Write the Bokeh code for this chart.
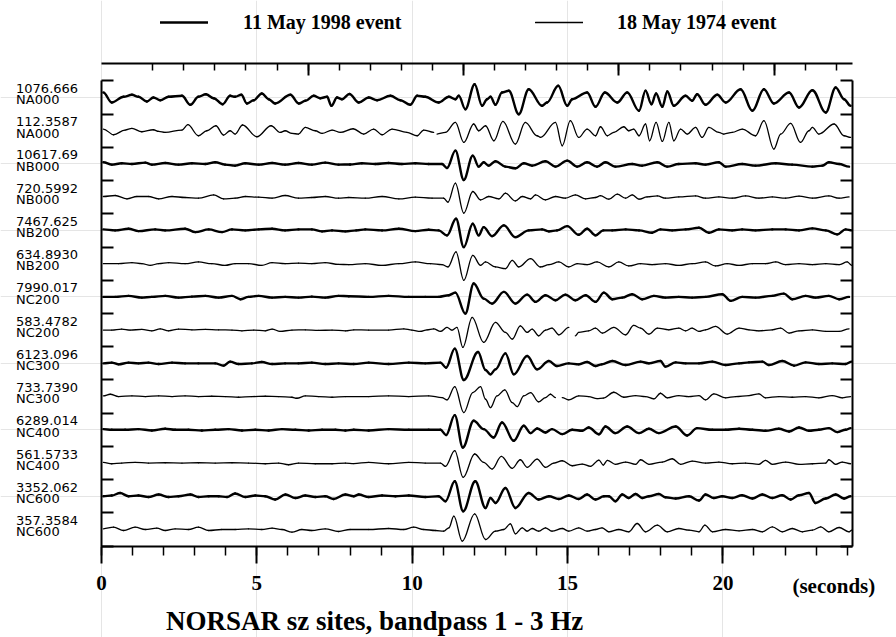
from bokeh.plotting import figure
from bokeh.models import (Range1d, LinearAxis, FixedTicker, Legend, LegendItem,
                          Label, LabelSet, ColumnDataSource, CustomLabelingPolicy)
from bokeh.core.properties import value
from bokeh.embed import file_html
from bokeh.resources import INLINE

nan = float("nan")

# ---------------- data (time in s, relative amplitude; trace spacing = 33.2) ----------------
events = ["11 May 1998 event", "18 May 1974 event"]
stations = ["NA000", "NA000", "NB000", "NB000", "NB200", "NB200", "NC200",
            "NC200", "NC300", "NC300", "NC400", "NC400", "NC600", "NC600"]
scales = ["1076.666", "112.3587", "10617.69", "720.5992", "7467.625", "634.8930",
          "7990.017", "583.4782", "6123.096", "733.7390", "6289.014", "561.5733",
          "3352.062", "357.3584"]
time_ticks = [0, 5, 10, 15, 20]
time_unit = "(seconds)"
title_text = "NORSAR sz sites, bandpass 1 - 3 Hz"

na000_1998 = [(0.06,5),(0.33,-5),(0.71,0.7),(0.98,2.7),(1.19,0.7),(1.46,-4),(1.67,0),(1.89,-2.7),
    (2.16,0.7),(2.59,1.7),(2.86,-7.3),(3.12,0.7),(3.36,3.3),(3.61,-0.7),(3.90,-6.7),(4.14,1.7),
    (4.30,0.7),(4.50,2.7),(4.68,-6),(4.90,-2.7),(5.16,4),(5.38,-1.7),(5.59,-6),(6.08,2.7),
    (6.35,-6),(6.56,-3.3),(6.83,1.7),(7.04,-0.7),(7.26,0.7),(7.40,-8.3),(7.58,0),(7.74,-1.7),
    (7.98,3.5),(8.28,-5),(8.60,0),(8.87,-2.7),(9.30,1.7),(9.62,-2.7),(9.94,-7.3),(10.16,1.7),
    (10.42,0.7),(10.85,-5),(11.18,0.7),(11.39,-1.7),(11.50,1.7),(11.71,-11.7),(12.01,13.3),
    (12.25,-8.3),(12.41,-1.7),(12.52,0.7),(12.68,-7.3),(12.89,5),(13.11,6.7),(13.43,-16.7),
    (13.75,8.3),(14.18,-8.3),(14.34,-5),(14.70,11.7),(14.99,-8.3),(15.15,-1.7),(15.63,5),
    (15.90,-9.3),(16.20,5),(16.60,-5),(16.92,5),(17.30,-13.3),(17.51,6.7),(17.70,-6.7),
    (17.85,4),(18.05,-9.3),(18.21,6),(18.42,-8.3),(18.80,1.7),(19.01,-3.3),(19.17,3.3),
    (19.44,-7.3),(19.82,2.7),(20.09,-5),(20.57,8.3),(20.95,-13.3),(21.32,8.3),(21.64,-6),
    (22.13,5),(22.45,-10),(22.88,7.3),(23.31,-15),(23.63,10),(23.90,-1.7),(24.11,-8.3)]

na000_1974 = [(0.06,1.7),(0.39,-4),(0.76,0.7),(0.98,2.3),(1.30,-1),(1.67,1),(1.84,-0.7),
    (2.05,-1.7),(2.59,0.7),(2.78,6),(3.12,-5),(3.39,0),(3.68,5),(3.93,-4.3),(4.14,0),(4.30,-3.3),
    (4.54,5.7),(5.00,-6),(5.46,5),(5.75,-1.7),(5.91,0),(6.13,-2.7),(6.34,-3.3),(6.56,3.3),
    (6.88,0),(7.10,-2.7),(7.42,0.7),(7.69,-1.7),(8.10,2),(8.44,-3.3),(8.76,1.7),(9.03,-4),
    (9.35,1.7),(9.83,-1.7),(10.16,-5),(10.37,0.7),(10.69,-1.7),(10.75,nan),(10.80,-3.3),
    (11.07,-1.7),(11.39,8.3),(11.66,-11.7),(11.98,6.7),(12.14,0),(12.36,5),(12.63,-10),
    (12.92,9.3),(13.32,-13.3),(13.64,8.3),(14.02,-5),(14.13,-6.7),(14.61,8.3),(14.83,-15),
    (15.09,10),(15.36,-6.7),(15.63,1.7),(15.90,-5),(16.06,4),(16.28,-5),(16.49,-1.7),(16.81,4),
    (16.97,0),(17.13,1.7),(17.30,-5),(17.51,6.7),(17.64,-10),(17.85,8.3),(18.05,-10.7),
    (18.26,8.3),(18.42,-10),(18.64,1.7),(18.85,-3.3),(19.12,3.3),(19.33,-6.7),(19.55,3.3),
    (19.87,-1.7),(20.03,-3.3),(20.30,-1.7),(20.62,1.7),(21.05,-5),(21.32,10),(21.64,-18.3),
    (21.86,-3.3),(22.18,7.3),(22.50,-11.7),(22.77,0),(22.88,3.3),(23.09,-3.3),(23.58,6.7),
    (23.90,-5),(24.11,-6.7)]

nb000_1998 = [(0.06,1.7),(0.33,-0.7),(0.65,0.7),(0.98,0),(1.41,1.3),(1.62,-0.7),(2.05,1),
    (2.48,-0.7),(2.91,0.7),(3.34,0),(3.66,1.7),(3.98,-0.7),(4.30,-1.7),(4.63,0.7),(5.06,-0.7),
    (5.49,1),(5.91,-0.7),(6.34,1),(6.77,-0.7),(7.20,1.3),(7.63,-0.7),(8.00,-0.5),(8.38,0.7),
    (8.81,0),(9.24,1),(9.67,0),(10.10,0.7),(10.53,0),(10.96,0),(11.12,-4),(11.39,13.3),
    (11.66,-16),(11.95,8.3),(12.14,-2.7),(12.30,1.7),(12.46,-1.7),(12.68,2.7),(13.00,-2.7),
    (13.32,-4.3),(13.59,0.7),(13.86,-1.7),(14.29,2.7),(14.61,-2.7),(14.99,3.3),(15.31,-2.7),
    (15.63,1.7),(15.95,-2.7),(16.22,1.7),(16.54,-2.7),(17.08,0),(17.40,-1.7),(17.89,1.7),
    (18.21,-2.7),(18.58,0),(19.12,0.7),(19.44,-0.7),(19.87,1.7),(20.09,-2.7),(20.62,0),
    (21.05,-1.7),(21.70,0.7),(22.23,-0.7),(22.88,-2.7),(23.20,-1.7),(23.41,1.7),(23.74,0),
    (24.06,-2.7)]

nb000_1974 = [(0.06,0.7),(0.44,1.7),(0.82,-1.7),(1.14,0.7),(1.51,0.7),(1.84,-1.7),(2.27,0.7),
    (2.69,-0.3),(3.12,-1),(3.61,2.3),(3.93,-1.7),(4.30,-1),(4.63,0.7),(5.06,0),(5.49,-1),
    (5.91,1.7),(6.34,-1),(6.77,-0.3),(7.20,0.7),(7.63,-1),(7.96,-0.3),(8.49,-1),(9.03,0.7),
    (9.57,-1.7),(10.10,0),(10.64,-1),(11.01,-1),(11.15,-5),(11.39,14),(11.66,-16),(11.95,5.7),
    (12.20,-2.7),(12.46,0.7),(12.79,-1.7),(13.00,4),(13.32,-3.7),(13.54,0.7),(13.81,-1.7),
    (13.97,2.3),(14.29,-2.7),(14.61,0.7),(14.93,-1),(15.25,2.3),(15.58,-1.7),(15.90,-0.3),
    (16.06,1.5),(16.33,-2),(16.60,3),(16.87,-1),(17.08,2.3),(17.30,-2),(17.56,0.3),(17.89,1.3),
    (18.15,-1),(18.58,0.3),(19.12,1.3),(19.44,-1),(19.87,0.3),(20.30,-1),(20.73,1.3),
    (21.16,-1),(21.59,0.3),(22.02,-1),(22.45,1),(22.88,-1),(23.41,1.3),(23.74,-1),(24.06,0.3)]

nb200_1998 = [(0.06,1),(0.44,0),(0.87,1.7),(1.19,-0.7),(1.73,1),(2.05,0),(2.69,1.7),(3.02,-1.7),
    (3.45,1),(3.88,-1.7),(4.20,1),(4.63,0),(5.06,1),(5.49,1.7),(5.91,0),(6.34,1),(6.77,1),
    (7.10,-1),(7.42,0),(7.85,-1),(8.20,0),(8.49,1),(9.03,0),(9.57,1.7),(10.10,-0.7),(10.53,0.7),
    (10.85,0),(11.12,-5),(11.41,11.7),(11.66,-16.7),(11.95,6.7),(12.14,-5),(12.30,3.3),
    (12.57,-5.7),(12.95,5),(13.32,-6.7),(13.75,0),(14.18,1),(14.40,-1),(14.66,0),(14.99,4.3),
    (15.36,-4.3),(15.63,1.7),(15.90,-5),(16.15,0),(16.44,0),(16.87,1),(17.30,0),(17.72,-2.3),
    (17.99,1),(18.37,0),(18.80,1),(19.23,2.7),(19.55,-2.3),(19.87,1),(20.30,0),(20.62,1),
    (21.05,0),(21.59,1),(22.02,1),(22.45,0),(22.88,2),(23.31,0),(23.68,-4),(23.95,1),(24.15,0)]

nb200_1974 = [(0.06,0),(0.55,0),(0.98,1),(1.30,0),(1.57,-1.7),(1.84,0),(2.16,1),(2.69,0),
    (3.12,1.7),(3.55,0),(3.98,-1.7),(4.30,0),(4.73,0),(5.16,-1.7),(5.49,1),(5.91,0),(6.34,0.5),
    (6.77,0),(7.20,1),(7.63,-0.7),(7.96,-1),(8.49,0),(9.03,-1.7),(9.57,0),(10.10,1.7),
    (10.59,0),(10.96,-1),(11.15,-3.3),(11.41,11.7),(11.66,-16.7),(11.95,8.3),(12.20,-1.7),
    (12.36,1.7),(12.68,-3.3),(13.00,-5),(13.22,3.3),(13.43,-3.3),(13.81,5),(14.13,-3.3),
    (14.40,-1),(14.72,1.7),(15.04,-3.3),(15.31,0),(15.63,-1),(15.95,1.7),(16.33,-3.3),
    (16.65,1.7),(16.97,-2.3),(17.35,0),(17.72,-1),(18.15,0),(18.58,-1.7),(19.01,0),(19.44,1.7),
    (19.76,-2.3),(20.14,0),(20.52,-1.7),(20.95,0),(21.37,0),(21.70,1.7),(22.02,-1),(22.45,0),
    (22.88,-1),(23.31,0),(23.74,-1),(24.00,1.7),(24.15,-1.7)]

nc200_1998 = [(0.06,0),(0.44,0),(0.87,1),(1.30,-0.7),(1.62,0),(2.05,1),(2.48,-0.7),(2.91,0.3),
    (3.34,1),(3.77,-0.7),(4.20,1),(4.47,-2.3),(4.73,0),(5.06,1),(5.49,-0.7),(5.91,0),(6.34,-0.7),
    (6.77,0.3),(7.20,-0.7),(7.63,1),(7.96,0.7),(8.60,0),(9.24,1),(9.89,0),(10.42,0),(10.85,0),
    (11.18,1.7),(11.39,4.3),(11.71,-16.7),(11.98,13.3),(12.30,-1.7),(12.57,-6.7),(12.95,5),
    (13.32,-6.7),(13.70,2.3),(13.97,-5),(14.29,1.7),(14.61,-3.3),(14.93,2.3),(15.25,-3.3),
    (15.58,1.7),(15.90,-5),(16.17,4.3),(16.44,-2.3),(16.76,-0.7),(17.08,2.7),(17.40,-2.3),
    (17.78,1),(18.15,-0.7),(18.58,0),(19.01,-0.7),(19.44,0),(19.98,2.7),(20.25,-4),(20.62,0),
    (21.05,-0.7),(21.59,1),(21.96,3.3),(22.23,-2.3),(22.66,1),(22.98,-0.7),(23.41,1),
    (23.74,-2.3),(24.06,0)]

nc200_1974 = [(0.06,0),(0.33,0),(0.65,1),(0.92,0),(1.30,0.7),(1.62,-0.7),(1.89,1.3),(2.16,-0.7),
    (2.48,1),(2.91,0.3),(3.34,0.7),(3.77,0.3),(4.20,0),(4.52,-0.7),(4.90,0),(5.27,-0.7),(5.49,1),
    (5.75,-1.3),(6.13,0),(6.56,0.3),(6.99,-0.3),(7.42,0),(7.85,-0.7),(8.12,0.3),(8.60,0),
    (9.24,0),(9.73,1.3),(9.99,0),(10.26,-1.3),(10.48,0.3),(10.69,1.3),(10.91,-1.3),(11.12,2.7),
    (11.28,0),(11.44,2.7),(11.63,-17.3),(11.93,12.7),(12.30,-12.3),(12.68,7.7),(13.00,-2.3),
    (13.22,-9),(13.48,4.3),(13.70,-2.3),(13.86,1),(14.07,-5.7),(14.29,0),(14.50,2),(14.72,-4.7),
    (15.04,2.7),(15.12,nan),(15.25,-5.7),(15.36,-2.3),(15.68,-0.7),(15.90,2),(16.12,-3),
    (16.49,2.7),(16.87,-4.7),(17.13,4.7),(17.35,2),(17.62,-4),(17.89,2),(18.26,0.3),(18.58,2),
    (18.80,-0.7),(19.01,2),(19.23,-1.3),(19.44,0.3),(19.76,3.7),(20.14,-4),(20.52,2),
    (20.84,0.3),(21.16,-0.7),(21.59,0.3),(21.86,2),(22.13,-3),(22.45,-0.7),(22.88,0.3),
    (23.31,-1.3),(23.74,-1.3),(24.06,1.3)]

nc300_1998 = [(0.06,0),(0.33,0.7),(0.55,-1),(0.87,0.7),(1.19,0),(1.51,0.7),(1.84,-0.7),(2.27,0.7),
    (2.69,0),(3.12,0),(3.66,0),(3.93,-2.3),(4.14,1.7),(4.41,-0.7),(4.84,0),(5.16,1.3),
    (5.49,-0.7),(5.91,0),(6.34,0),(6.77,0.7),(7.20,-0.7),(7.63,0),(8.12,-0.7),(8.60,0.7),
    (9.24,-0.7),(9.89,0.7),(10.42,0),(10.91,0.7),(11.09,-4.3),(11.37,14.7),(11.66,-16.7),
    (12.12,11.3),(12.36,-6.7),(12.52,-11),(12.68,-6),(13.00,10),(13.27,-11),(13.70,7.3),
    (14.02,-6),(14.40,2.3),(14.66,-2.7),(15.04,0),(15.36,-1),(15.63,1.3),(15.90,-2.7),
    (16.10,-1),(16.44,2.3),(16.87,-1.7),(17.35,1.7),(17.62,0),(17.99,2.3),(18.15,-3.3),
    (18.48,1),(18.80,0),(19.23,0),(19.66,1.7),(20.09,-1.7),(20.52,0),(20.84,1),(21.27,1.7),
    (21.48,-1.7),(21.91,2.3),(22.29,-2.3),(22.66,1),(23.09,-0.7),(23.52,0),(23.95,-0.7),
    (24.15,1.7)]

nc300_1974 = [(0.06,0.7),(0.28,2.3),(0.55,0),(0.98,0.7),(1.41,0),(1.84,0.7),(2.27,0),(2.69,0.7),
    (3.12,0),(3.55,0.3),(3.98,0),(4.41,-0.7),(4.84,0),(5.27,0.3),(5.70,0),(6.13,-0.7),
    (6.29,-1.7),(6.56,0.7),(6.99,0),(7.42,-0.7),(7.85,0),(8.60,0),(9.24,0.7),(9.89,0),
    (10.53,0.7),(10.96,-1),(11.12,-3.3),(11.37,10),(11.66,-16),(11.95,4),(12.20,10),
    (12.36,-2.7),(12.52,-11),(12.73,0.7),(12.98,6.7),(13.22,-6),(13.38,-10),(13.59,0.7),
    (13.81,4),(14.07,-5.3),(14.29,-1),(14.45,2.3),(14.61,-1),(14.72,nan),(14.83,-1),
    (15.04,-3.3),(15.36,0.7),(15.68,0),(15.95,-2),(16.15,-1.5),(16.49,4.3),(16.81,-0.7),
    (17.19,1),(17.51,0),(17.78,-2.3),(17.99,3.3),(18.21,-1.3),(18.58,1),(18.90,0),(19.23,1),
    (19.44,-3.3),(19.71,2.7),(20.09,-1.3),(20.41,0),(20.84,1),(21.16,2.7),(21.37,-1.3),
    (21.80,0),(22.23,-0.7),(22.66,0),(23.09,-1.3),(23.52,1),(23.84,-1.3),(24.11,0)]

nc400_1998 = [(0.06,0.7),(0.33,0),(0.76,0),(1.19,0.7),(1.62,-0.7),(2.05,1),(2.37,0),(2.80,0),
    (3.23,-0.7),(3.66,0),(4.09,0.7),(4.52,-0.7),(4.95,0),(5.38,-0.7),(5.81,0.7),(6.24,0),
    (6.67,-0.7),(7.10,0),(7.53,0),(7.85,-0.7),(8.12,0),(8.60,-0.7),(9.24,0.7),(9.89,0),
    (10.53,0),(10.91,0),(11.09,-5.3),(11.37,14.7),(11.63,-17.7),(11.98,9),(12.30,0.7),
    (12.62,-7.7),(12.89,7.3),(13.27,-11),(13.59,4),(13.81,-3.3),(14.02,1.3),(14.29,-2.7),
    (14.50,0.7),(14.83,-4.3),(15.15,0),(15.47,-1),(15.68,2.3),(16.01,-4.5),(16.22,3.3),
    (16.54,-3.3),(16.92,3.3),(17.30,-3.3),(17.62,1),(17.94,-3.3),(18.48,3.3),(18.85,-5.7),
    (19.17,1.7),(19.66,0),(20.09,0),(20.52,1),(20.95,0),(21.37,-1),(21.80,1),(22.13,-1.7),
    (22.45,2.3),(22.77,-1),(23.09,0),(23.41,1.7),(23.68,-2.3),(23.95,0),(24.11,1.7)]

nc400_1974 = [(0.06,0.7),(0.33,-0.7),(0.65,0),(1.08,0.7),(1.51,0),(2.05,0.3),(2.59,0),(3.12,0.3),
    (3.66,0),(4.20,0.3),(4.73,0),(5.27,-0.7),(5.70,0),(6.02,-1.7),(6.34,0),(6.88,-0.7),
    (7.42,-0.7),(7.85,0),(8.12,-0.5),(8.60,0.7),(9.24,-0.7),(9.89,0.7),(10.42,0),(10.91,0),
    (11.07,-3.3),(11.37,12.3),(11.64,-14.3),(12.01,9),(12.30,0.7),(12.57,-6),(12.87,6.7),
    (13.22,-5.3),(13.48,3.3),(13.70,-4.3),(14.02,4),(14.29,-4.3),(14.56,0),(14.83,2.3),
    (15.15,-2.7),(15.47,-1),(15.74,-3.3),(16.01,3),(16.15,-2),(16.28,2.7),(16.54,-1.3),
    (16.87,1),(17.19,-1.3),(17.35,3.3),(17.62,-1.3),(18.05,1),(18.37,4.3),(18.64,-1.3),
    (19.01,2),(19.44,0),(19.87,1),(20.30,-0.7),(20.73,0),(21.16,-1.3),(21.37,2.7),(21.59,-1.3),
    (22.02,1),(22.45,-1.3),(22.88,-0.7),(23.31,0),(23.41,3.3),(23.63,-1.3),(23.84,1),
    (24.11,-0.7)]

nc600_1998 = [(0.06,0),(0.33,0.7),(0.60,3.3),(0.87,0),(1.19,0.7),(1.51,-0.7),(1.84,1.7),
    (2.16,-0.7),(2.48,0),(2.86,1.7),(3.12,-0.7),(3.45,0),(3.77,0),(4.04,-0.7),(4.30,2.7),
    (4.63,-0.7),(4.95,0.7),(5.27,0),(5.59,-3.3),(5.92,1.7),(6.24,-1.7),(6.56,0.7),(6.88,-0.7),
    (7.20,0),(7.47,-2.7),(7.85,1.7),(8.12,0),(8.28,1.7),(8.60,-0.7),(9.03,0.7),(9.46,0),
    (9.89,0.7),(10.42,-0.7),(10.85,0),(11.07,-5),(11.37,15),(11.64,-15),(12.03,15),
    (12.36,-11.7),(12.52,-1.7),(12.68,-6.7),(13.00,8.3),(13.32,-11.7),(13.75,3.3),(14.07,-3.3),
    (14.40,0),(14.72,-2.7),(15.04,0.7),(15.36,-2.7),(15.63,1.7),(15.90,-3.3),(16.17,0),
    (16.33,0),(16.54,-5),(16.76,1.7),(16.97,-1.7),(17.19,2.3),(17.40,-1.7),(17.62,0),
    (17.94,2.3),(18.15,-1),(18.48,-2.3),(18.91,0),(19.23,-4.3),(19.44,1.7),(19.71,-1.7),
    (19.98,0),(20.30,-1.7),(20.62,1),(20.95,-2.3),(21.27,1.7),(21.59,-1.7),(21.91,1),
    (22.18,-3.3),(22.45,1),(22.77,3.3),(22.98,-6.7),(23.31,-2.3),(23.63,1.7),(23.90,-2.3),
    (24.11,0)]

nc600_1974 = [(0.06,0.7),(0.39,2.3),(0.71,-1),(1.08,2.3),(1.41,0),(1.78,1.3),(2.05,-1),
    (2.37,0.7),(2.80,0),(3.12,2.3),(3.45,-1),(3.87,0),(4.30,0),(4.73,0.7),(5.16,0),(5.49,1.3),
    (5.81,0),(6.13,-2.7),(6.45,0),(6.77,-1),(7.20,0.7),(7.63,-2),(8.00,0),(8.60,0),(9.24,1),
    (9.73,0),(10.05,2.3),(10.37,0),(10.75,-1),(11.01,-1.7),(11.18,1.7),(11.34,13.3),
    (11.61,-11.7),(12.01,15.7),(12.36,-10),(12.68,-1.7),(12.95,0),(13.16,5.7),(13.32,-4.3),
    (13.54,1.7),(13.70,-1.7),(13.86,1),(14.07,-1.7),(14.29,1.7),(14.50,-1.7),(14.83,1),
    (15.04,-1.7),(15.36,1.7),(15.63,-1.7),(15.90,0),(16.11,1.7),(16.33,-2.3),(16.65,0),
    (16.97,-2.3),(17.24,6),(17.51,-2.3),(17.89,4.3),(18.21,-2.3),(18.58,1),(18.91,-0.7),
    (19.23,-2.3),(19.42,4.3),(19.66,-2.3),(20.09,0),(20.52,-1.3),(20.95,0),(21.27,-2.3),
    (21.59,2.7),(21.91,-2.3),(22.23,1),(22.56,-2.3),(22.88,-0.7),(23.15,2.7),(23.41,-2.3),
    (23.74,2),(24.06,-2.3),(24.15,-0.7)]

traces = [na000_1998, na000_1974, nb000_1998, nb000_1974, nb200_1998, nb200_1974,
          nc200_1998, nc200_1974, nc300_1998, nc300_1974, nc400_1998, nc400_1974,
          nc600_1998, nc600_1974]

# ---------------- layout constants ----------------
W, H = 896, 637
PX_PER_S = 31.07         # horizontal scale
PX_PER_TRACE = 33.23     # vertical trace spacing
X0_PX, Y0_PX = 101, 97   # screen position of t=0 and of the first trace
GAIN = 1.0 / 33.2        # amplitude units per trace spacing
SMOOTH = 0.36            # bezier handle length (fraction of segment) -> rounded wiggles
X_END = 24.17
Y_TOP = 1.02
Y_BOT = -13.5
TOP_SHIFT = 1.65

x_start = -X0_PX / PX_PER_S
x_stop = (W - X0_PX) / PX_PER_S
y_stop = Y0_PX / PX_PER_TRACE
y_start = (Y0_PX - H) / PX_PER_TRACE

p = figure(width=W, height=H, output_backend="svg", toolbar_location=None, title=None,
           x_range=Range1d(x_start, x_stop), y_range=Range1d(y_start, y_stop),
           x_axis_location=None, y_axis_location=None,
           min_border=0, min_border_left=0, min_border_right=0, min_border_top=0,
           min_border_bottom=0)
p.outline_line_color = None
p.background_fill_color = "white"
p.border_fill_color = "white"


def curve_source(indices):
    d = {k: [] for k in ("x0", "y0", "x1", "y1", "cx0", "cy0", "cx1", "cy1")}
    for i in indices:
        tr = traces[i]
        for (t0, a0), (t1, a1) in zip(tr[:-1], tr[1:]):
            if a0 != a0 or a1 != a1:      # recording gap
                continue
            y0 = -i + a0 * GAIN
            y1 = -i + a1 * GAIN
            h = (t1 - t0) * SMOOTH
            d["x0"].append(t0); d["y0"].append(y0)
            d["x1"].append(t1); d["y1"].append(y1)
            d["cx0"].append(t0 + h); d["cy0"].append(y0)
            d["cx1"].append(t1 - h); d["cy1"].append(y1)
    return ColumnDataSource(d)


bez = dict(x0="x0", y0="y0", x1="x1", y1="y1", cx0="cx0", cy0="cy0", cx1="cx1", cy1="cy1")
r98 = p.bezier(source=curve_source(range(0, 14, 2)), line_color="black", line_width=2.4,
               line_cap="round", **bez)
r74 = p.bezier(source=curve_source(range(1, 14, 2)), line_color="black", line_width=1.3,
               line_cap="round", **bez)

no_labels = "for (const i of indices) indices.unset(i)"

# bottom time axis
xa = LinearAxis(fixed_location=Y_BOT, bounds=(0, X_END),
                ticker=FixedTicker(ticks=time_ticks, minor_ticks=list(range(0, 25))),
                axis_line_width=2, major_tick_line_width=2, minor_tick_line_width=1.5,
                major_tick_in=0, major_tick_out=17, minor_tick_in=0, minor_tick_out=9,
                major_label_standoff=13, major_label_text_font="Liberation Serif",
                major_label_text_font_style="bold", major_label_text_font_size="21px",
                major_label_text_color="black")
p.add_layout(xa, "below")

# left / right frame axes with separators between traces
sep_ticks = [Y_BOT + k for k in range(15)]
for side, loc in (("left", 0), ("right", X_END)):
    ax = LinearAxis(fixed_location=loc, bounds=(Y_BOT, 0.5),
                    ticker=FixedTicker(ticks=sep_ticks, minor_ticks=[]),
                    axis_line_width=2, major_tick_line_width=2, major_tick_in=12,
                    major_tick_out=0, minor_tick_in=0, minor_tick_out=0,
                    major_label_policy=CustomLabelingPolicy(code=no_labels))
    p.add_layout(ax, side)

# top time axis (offset)
p.extra_x_ranges = {"top": Range1d(x_start - TOP_SHIFT, x_stop - TOP_SHIFT)}
ta = LinearAxis(x_range_name="top", fixed_location=Y_TOP,
                bounds=(-TOP_SHIFT, X_END - TOP_SHIFT),
                ticker=FixedTicker(ticks=[5, 10, 15, 20], minor_ticks=list(range(0, 23))),
                axis_line_width=2, major_tick_line_width=2, minor_tick_line_width=1.5,
                major_tick_in=12, major_tick_out=0, minor_tick_in=7, minor_tick_out=0,
                major_label_policy=CustomLabelingPolicy(code=no_labels))
p.add_layout(ta, "above")

# station labels
n = len(stations)
src = ColumnDataSource(dict(x=[-2.75] * n,
                            y_num=[-i + 0.27 for i in range(n)],
                            y_sta=[-i - 0.07 for i in range(n)],
                            num=scales, sta=stations))
for ycol, tcol in (("y_num", "num"), ("y_sta", "sta")):
    p.add_layout(LabelSet(x="x", y=ycol, text=tcol, source=src,
                          text_font=value("DejaVu Sans"), text_font_size=value("13px"),
                          text_align="left", text_baseline="middle", text_color="black"))

# legends
def make_legend(label, r, loc, standoff):
    return Legend(items=[LegendItem(label=label, renderers=[r])], location=loc,
                  orientation="horizontal", padding=0, margin=0, spacing=0,
                  border_line_color=None, background_fill_alpha=0,
                  glyph_width=48, glyph_height=24, label_height=24,
                  label_standoff=standoff, label_text_font="Liberation Serif",
                  label_text_font_style="bold", label_text_font_size="20px",
                  label_text_color="black")

p.add_layout(make_legend(events[0], r98, (160, H - 34), 35))
p.add_layout(make_legend(events[1], r74, (535, H - 34), 34))

# unit label and title
p.add_layout(Label(x=23.57, y=(Y0_PX - 585) / PX_PER_TRACE, text=time_unit,
                   text_align="center", text_baseline="middle", text_font="Liberation Serif",
                   text_font_style="bold", text_font_size="21px", text_color="black"))
p.add_layout(Label(x=8.79, y=(Y0_PX - 620) / PX_PER_TRACE, text=title_text,
                   text_align="center", text_baseline="middle",
                   text_font="Liberation Serif", text_font_style="bold",
                   text_font_size="27px", text_color="black"))

open("out.html", "w").write(file_html(p, INLINE))
